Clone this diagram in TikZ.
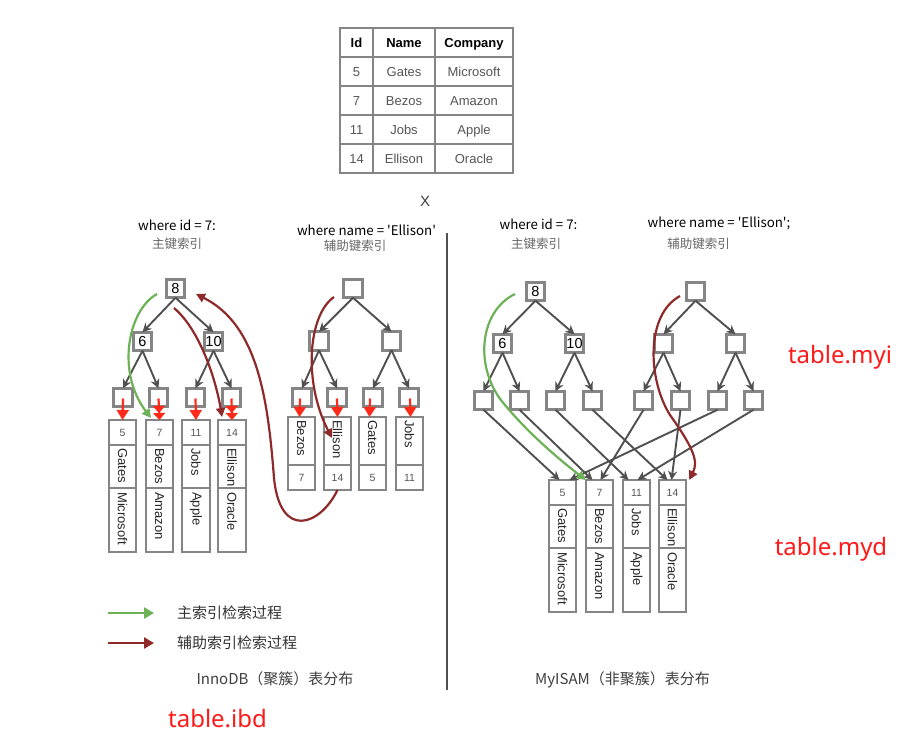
\documentclass[tikz,border=0pt]{standalone}
\usepackage{fontspec}
\usepackage{graphicx}
\setmainfont{Liberation Sans}
\newfontfamily\cjk{Noto Sans CJK SC}
\newfontfamily\nsans{Noto Sans}
\usetikzlibrary{arrows.meta}
\definecolor{boxgray}{HTML}{858585}
\definecolor{edgegray}{HTML}{505050}
\definecolor{txtgray}{HTML}{555555}
\definecolor{hired}{HTML}{FF2A1A}
\definecolor{darkred}{HTML}{8E2A2A}
\definecolor{pgreen}{HTML}{6DB257}
\definecolor{labred}{HTML}{FF1A1A}
\definecolor{subgray}{HTML}{666666}
\newcommand\fs[1]{\fontsize{#1}{#1}\selectfont}
% clustered row: prefix, x, id, name, company, top
\newcommand\irow[6]{%
  \node[cell, minimum height=25pt] (#1i) at (#2,#6) {};
  \node[ntxt] (#1it) at (#1i.center) {#3};
  \node[cell, minimum height=43pt] (#1n) at (#1i.south) {};
  \node[rtxt] (#1nt) at ([yshift=-3pt]#1n.north) {#4};
  \node[cell, minimum height=64pt] (#1c) at (#1n.south) {};
  \node[rtxt] (#1ct) at ([yshift=-4pt]#1c.north) {#5};
}
% secondary row: prefix, x, name, id
\newcommand\srow[4]{%
  \node[cell, minimum height=48pt] (#1n) at (#2,417) {};
  \node[rtxt] (#1nt) at ([yshift=-3pt]#1n.north) {#3};
  \node[cell, minimum height=25pt] (#1i) at (#1n.south) {};
  \node[ntxt] (#1it) at (#1i.center) {#4};
}
\begin{document}
\begin{tikzpicture}[x=1pt,y=-1pt,
  tbox/.style={draw=boxgray, line width=2.6pt, fill=white, minimum size=18.5pt, inner sep=0pt, outer sep=0pt, font=\fs{14.5}},
  tedge/.style={draw=edgegray, line width=1.9pt, -{Stealth[length=9pt,width=9pt]}},
  cell/.style={draw=boxgray, line width=2pt, fill=white, minimum width=27.5pt, inner sep=0pt, outer sep=0pt, anchor=north},
  rtxt/.style={rotate=-90, anchor=west, inner sep=0pt, font=\fs{13}, text=black!85},
  ntxt/.style={font=\fs{10.5}, text=txtgray, inner sep=0pt},
  redtip/.style={draw=hired, line width=2.2pt, -{Triangle[length=10pt,width=12pt]}},
  redtwo/.style={draw=hired, line width=2.2pt, -{Triangle[length=7pt,width=12pt]Triangle[length=7pt,width=12pt]}},
  greencurve/.style={draw=pgreen, line width=2.2pt, -{Triangle[length=9pt,width=9pt]}},
  redcurve/.style={draw=darkred, line width=2.2pt, -{Triangle[length=9pt,width=9pt]}},
  where/.style={font=\cjk\fs{13.3}, text=black, inner sep=0pt},
  sub/.style={font=\cjk\fs{12.5}, text=subgray, inner sep=0pt},
  thead/.style={font=\bfseries\fs{13}, text=black, inner sep=0pt, anchor=base},
  tcell/.style={font=\fs{13}, text=txtgray, inner sep=0pt, anchor=base},
  lab/.style={font=\nsans\fs{24}, text=labred, inner sep=0pt},
  captext/.style={font=\cjk\fs{15}, text=black!75, inner sep=0pt},
  leg/.style={font=\cjk\fs{15}, text=black!80, inner sep=0pt, anchor=west}
]
\useasboundingbox (0,0) rectangle (904,741);
\fill[white] (0,0) rectangle (904,741);

% ---------- top table ----------
\draw[boxgray, line width=2.5pt] (340,28) rectangle (513,173);
\foreach \yy in {57,86,115,144} \draw[boxgray, line width=2.5pt] (340,\yy) -- (513,\yy);
\foreach \xx in {373,435} \draw[boxgray, line width=2.5pt] (\xx,28) -- (\xx,173);
\node[thead] (h1) at (356.5,47.2) {Id};
\node[thead] (h2) at (404,47.2) {Name};
\node[thead] (h3) at (474,47.2) {Company};
\node[tcell] (a1) at (356.5,76.2) {5};
\node[tcell] (a2) at (404,76.2) {Gates};
\node[tcell] (a3) at (474,76.2) {Microsoft};
\node[tcell] (b1) at (356.5,105.2) {7};
\node[tcell] (b2) at (404,105.2) {Bezos};
\node[tcell] (b3) at (474,105.2) {Amazon};
\node[tcell] (c1) at (356.5,134.2) {11};
\node[tcell] (c2) at (404,134.2) {Jobs};
\node[tcell] (c3) at (474,134.2) {Apple};
\node[tcell] (d1) at (356.5,163.2) {14};
\node[tcell] (d2) at (404,163.2) {Ellison};
\node[tcell] (d3) at (474,163.2) {Oracle};
\node[font=\fs{15}, text=black!75, inner sep=0pt] (xmark) at (425,201) {X};

% ---------- divider ----------
\draw[edgegray, line width=2pt] (447,233) -- (447,690);

% ---------- titles ----------
\node[where] (w1) at (177,225) {where id = 7:};
\node[sub] (s1) at (177,244) {主键索引};
\node[where] (w2) at (366.5,230) {where name = 'Ellison'};
\node[sub] (s2) at (355,246) {辅助键索引};
\node[where] (w3) at (538.5,224) {where id = 7:};
\node[sub] (s3) at (536,244) {主键索引};
\node[where] (w4) at (719,223) {where name = 'Ellison';};
\node[sub] (s4) at (698.5,244) {辅助键索引};

% ---------- InnoDB primary tree ----------
\node[tbox] (p8) at (175.5,288.5) {8};
\node[tbox] (p6) at (142.5,341.5) {6};
\node[tbox] (p10) at (213.5,341.5) {10};
\node[tbox] (pl1) at (123,397.5) {};
\node[tbox] (pl2) at (158.5,397.5) {};
\node[tbox] (pl3) at (195.5,397.5) {};
\node[tbox] (pl4) at (231.5,397.5) {};
\draw[tedge] (p8.south) -- (p6.north);
\draw[tedge] (p8.south) -- (p10.north);
\draw[tedge] (p6.south) -- (pl1.north);
\draw[tedge] (p6.south) -- (pl2.north);
\draw[tedge] (p10.south) -- (pl3.north);
\draw[tedge] (p10.south) -- (pl4.north);

\irow{r1}{122.5}{5}{Gates}{Microsoft}{420}
\irow{r2}{159.5}{7}{Bezos}{Amazon}{420}
\irow{r3}{196}{11}{Jobs}{Apple}{420}
\irow{r4}{232}{14}{Ellison}{Oracle}{420}

\draw[redtip] ([yshift=-1pt]pl1.center) -- (r1i.north);
\draw[redtwo] ([yshift=-1pt]pl2.center) -- (r2i.north);
\draw[redtip] ([yshift=-1pt]pl3.center) -- (r3i.north);
\draw[redtwo] ([yshift=-1pt]pl4.center) -- (r4i.north);

% ---------- InnoDB secondary tree ----------
\node[tbox] (q0) at (353,288.5) {};
\node[tbox] (q1) at (319,341) {};
\node[tbox] (q2) at (391.5,341) {};
\node[tbox] (ql1) at (302,397.5) {};
\node[tbox] (ql2) at (337,397.5) {};
\node[tbox] (ql3) at (373,397.5) {};
\node[tbox] (ql4) at (409,397.5) {};
\draw[tedge] (q0.south) -- (q1.north);
\draw[tedge] (q0.south) -- (q2.north);
\draw[tedge] (q1.south) -- (ql1.north);
\draw[tedge] (q1.south) -- (ql2.north);
\draw[tedge] (q2.south) -- (ql3.north);
\draw[tedge] (q2.south) -- (ql4.north);

\srow{t1}{301.5}{Bezos}{7}
\srow{t2}{337.5}{Ellison}{14}
\srow{t3}{372.5}{Gates}{5}
\srow{t4}{409.5}{Jobs}{11}

\draw[redtip] ([xshift=-2pt,yshift=-1pt]ql1.center) -- ([xshift=-2pt]t1n.north);
\draw[redtip] ([yshift=-1pt]ql2.center) -- (t2n.north);
\draw[redtip] ([xshift=-3pt,yshift=-1pt]ql3.center) -- ([xshift=-3pt]t3n.north);
\draw[redtip] ([xshift=1pt,yshift=-1pt]ql4.center) -- ([xshift=1pt]t4n.north);

% ---------- InnoDB curves ----------
\coordinate (g1s) at (157,294);
\coordinate (g1e) at (151,418);
\draw[greencurve] (g1s) .. controls (128,310) and (116,372) .. (g1e);
\coordinate (r1s) at (174,308);
\coordinate (r1e) at (222,417);
\draw[redcurve] (r1s) .. controls (200,330) and (216,380) .. (r1e);
\coordinate (r2s) at (334,297);
\coordinate (r2e) at (332,438);
\draw[redcurve] (r2s) .. controls (308,315) and (303,382) .. (r2e);
\coordinate (r3m) at (274,478);
\coordinate (r3e) at (196,294);
\draw[redcurve] (t2i.south) .. controls (320,526) and (280,540) .. (r3m)
   .. controls (268,400) and (258,325) .. (r3e);

% ---------- MyISAM primary tree ----------
\node[tbox] (m8) at (535.5,291.5) {8};
\node[tbox] (m6) at (502.5,343.5) {6};
\node[tbox] (m10) at (574.5,343.5) {10};
\node[tbox] (ml1) at (483.5,400.5) {};
\node[tbox] (ml2) at (519.5,400.5) {};
\node[tbox] (ml3) at (555.5,400.5) {};
\node[tbox] (ml4) at (592.5,400.5) {};
\draw[tedge] (m8.south) -- (m6.north);
\draw[tedge] (m8.south) -- (m10.north);
\draw[tedge] (m6.south) -- (ml1.north);
\draw[tedge] (m6.south) -- (ml2.north);
\draw[tedge] (m10.south) -- (ml3.north);
\draw[tedge] (m10.south) -- (ml4.north);

% ---------- MyISAM secondary tree ----------
\node[tbox] (n0) at (695.5,291.5) {};
\node[tbox] (n1) at (663.5,343.5) {};
\node[tbox] (n2) at (735.5,343.5) {};
\node[tbox] (nl1) at (643.5,400.5) {};
\node[tbox] (nl2) at (680.5,400.5) {};
\node[tbox] (nl3) at (717.5,400.5) {};
\node[tbox] (nl4) at (753.5,400.5) {};
\draw[tedge] (n0.south) -- (n1.north);
\draw[tedge] (n0.south) -- (n2.north);
\draw[tedge] (n1.south) -- (nl1.north);
\draw[tedge] (n1.south) -- (nl2.north);
\draw[tedge] (n2.south) -- (nl3.north);
\draw[tedge] (n2.south) -- (nl4.north);

% ---------- MyISAM data rows ----------
\irow{y1}{562.5}{5}{Gates}{Microsoft}{480}
\irow{y2}{599.5}{7}{Bezos}{Amazon}{480}
\irow{y3}{636.5}{11}{Jobs}{Apple}{480}
\irow{y4}{672.5}{14}{Ellison}{Oracle}{480}

\draw[tedge] (ml1.south) -- ([xshift=-3pt]y1i.north);
\draw[tedge] (nl3.south) -- ([xshift=7pt]y1i.north);
\draw[tedge] (ml2.south) -- ([xshift=-7pt]y2i.north);
\draw[tedge] (nl1.south) -- ([xshift=1pt]y2i.north);
\draw[tedge] (ml3.south) -- ([xshift=-8pt]y3i.north);
\draw[tedge] (nl4.south) -- ([xshift=1pt]y3i.north);
\draw[tedge] (ml4.south) -- ([xshift=-5pt]y4i.north);
\draw[tedge] (nl2.south) -- ([xshift=-1pt]y4i.north);

% ---------- MyISAM curves ----------
\coordinate (g2s) at (515,294);
\draw[greencurve] (g2s) .. controls (478,312) and (474,370) .. (505,405)
   .. controls (530,435) and (560,460) .. (y2i.north west);
\coordinate (r4s) at (680,296);
\draw[redcurve] (r4s) .. controls (645,315) and (648,380) .. (670,415)
   .. controls (695,450) and (698,462) .. ([xshift=3pt]y4i.north east);

% ---------- legend & captions ----------
\coordinate (lg1a) at (108,613);
\coordinate (lg1b) at (154,613);
\coordinate (lg2a) at (108,643);
\coordinate (lg2b) at (154,643);
\draw[draw=pgreen, line width=2.8pt, -{Triangle[length=10pt,width=11pt]}] (lg1a) -- (lg1b);
\draw[draw=darkred, line width=2.8pt, -{Triangle[length=10pt,width=11pt]}] (lg2a) -- (lg2b);
\node[leg] (lt1) at (177,613) {主索引检索过程};
\node[leg] (lt2) at (177,643) {辅助索引检索过程};
\node[captext] (cap1) at (275,679) {InnoDB（聚簇）表分布};
\node[captext] (cap2) at (622.5,680) {MyISAM（非聚簇）表分布};

\node[lab] (ibd) at (217.5,719) {table.ibd};
\node[lab] (myi) at (840,357) {table.myi};
\node[lab] (myd) at (831,549) {table.myd};
\end{tikzpicture}
\end{document}
